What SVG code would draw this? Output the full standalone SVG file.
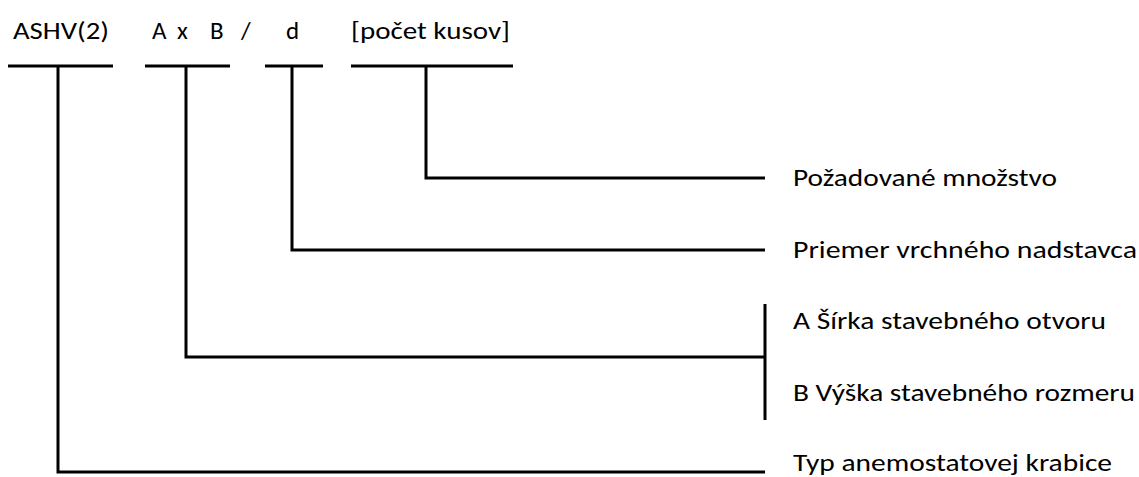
<svg xmlns="http://www.w3.org/2000/svg" width="1139" height="477" viewBox="0 0 1139 477">
<style>
text{font-family:Carlito,Calibri,Lato,"Liberation Sans",sans-serif;font-size:25px;fill:#000}
.ln{stroke:#000;stroke-width:3;fill:none;stroke-linecap:butt;stroke-linejoin:miter}
</style>
<rect width="1139" height="477" fill="#fff"/>
<g id="code-ashv">
<text x="13" y="39" textLength="96" lengthAdjust="spacingAndGlyphs">ASHV(2)</text>
<line class="ln" x1="8" y1="66" x2="113" y2="66"/>
</g>
<g id="code-axb">
<text x="152" y="39">A</text>
<text x="177" y="39">x</text>
<text x="210" y="39">B</text>
<line class="ln" x1="145" y1="66" x2="230" y2="66"/>
</g>
<g id="code-slash"><text x="241" y="39">/</text></g>
<g id="code-d">
<text x="286" y="39">d</text>
<line class="ln" x1="265" y1="66" x2="323" y2="66"/>
</g>
<g id="code-pocet">
<text x="351" y="39" textLength="159" lengthAdjust="spacingAndGlyphs">[počet kusov]</text>
<line class="ln" x1="351" y1="66" x2="513" y2="66"/>
</g>
<g id="connectors">
<polyline class="ln" points="426,66 426,178 765,178"/>
<polyline class="ln" points="292,66 292,250 765,250"/>
<polyline class="ln" points="186,66 186,357 765,357"/>
<line class="ln" x1="765" y1="304" x2="765" y2="420"/>
<polyline class="ln" points="58,66 58,472 765,472"/>
</g>
<g id="label-mnozstvo"><text x="793" y="186" textLength="264" lengthAdjust="spacingAndGlyphs">Požadované množstvo</text></g>
<g id="label-priemer"><text x="793" y="258" textLength="344" lengthAdjust="spacingAndGlyphs">Priemer vrchného nadstavca</text></g>
<g id="label-sirka"><text x="793" y="329" textLength="313" lengthAdjust="spacingAndGlyphs">A Šírka stavebného otvoru</text></g>
<g id="label-vyska"><text x="793" y="401" textLength="342" lengthAdjust="spacingAndGlyphs">B Výška stavebného rozmeru</text></g>
<g id="label-typ"><text x="793" y="471" textLength="319" lengthAdjust="spacingAndGlyphs">Typ anemostatovej krabice</text></g>
</svg>
